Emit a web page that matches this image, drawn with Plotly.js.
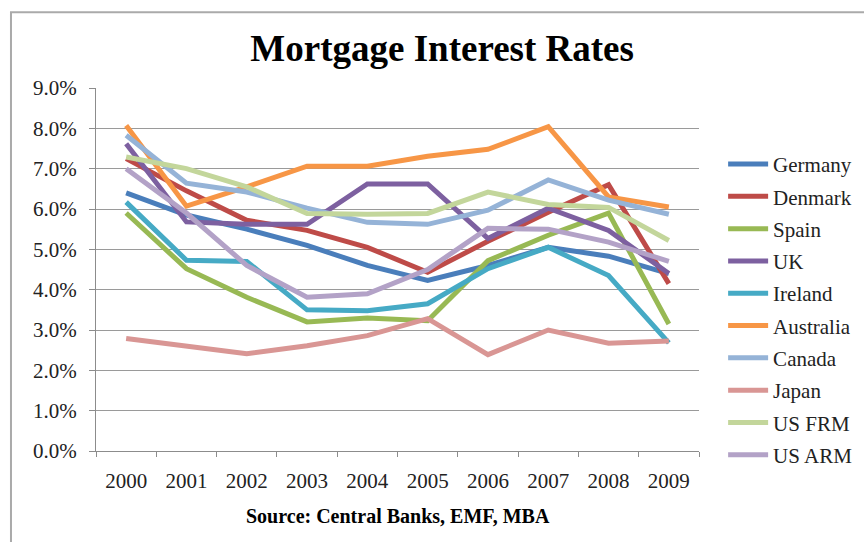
<!DOCTYPE html>
<html>
<head>
<meta charset="utf-8">
<script src="https://cdn.plot.ly/plotly-3.0.1.min.js"></script>
<style>html,body{margin:0;padding:0;background:#fff;}#chart{width:864px;height:542px;}</style>
</head>
<body>
<div id="chart"></div>
<script>
const years = ['2000','2001','2002','2003','2004','2005','2006','2007','2008','2009'];
const germany   = [6.4, 5.85, 5.5, 5.1, 4.6, 4.23, 4.6, 5.05, 4.83, 4.4];
const denmark   = [7.25, 6.45, 5.72, 5.47, 5.05, 4.43, 5.2, 5.92, 6.6, 4.15];
const spain     = [5.9, 4.52, 3.81, 3.2, 3.3, 3.23, 4.72, 5.35, 5.9, 3.15];
const uk        = [7.62, 5.68, 5.62, 5.62, 6.62, 6.62, 5.27, 6.02, 5.47, 4.4];
const ireland   = [6.17, 4.73, 4.7, 3.5, 3.48, 3.65, 4.52, 5.05, 4.35, 2.68];
const australia = [8.07, 6.07, 6.55, 7.06, 7.06, 7.31, 7.48, 8.04, 6.3, 6.05];
const canada    = [7.83, 6.64, 6.42, 6.02, 5.67, 5.62, 5.97, 6.72, 6.22, 5.87];
const japan     = [2.79, 2.6, 2.41, 2.61, 2.86, 3.28, 2.39, 3.0, 2.67, 2.73];
const usFrm     = [7.29, 7.0, 6.55, 5.89, 5.87, 5.89, 6.42, 6.11, 6.04, 5.22];
const usArm     = [7.0, 5.9, 4.6, 3.81, 3.9, 4.5, 5.52, 5.5, 5.18, 4.7];

const seriesNames = ['Germany','Denmark','Spain','UK','Ireland','Australia','Canada','Japan','US FRM','US ARM'];
const seriesData = [germany, denmark, spain, uk, ireland, australia, canada, japan, usFrm, usArm];
const colors = ['#4A7EBB','#BE4B48','#98B954','#7D60A0','#46AAC5','#F79646','#95B3D7','#D99694','#C3D69B','#B3A2C7'];

const font = "Liberation Serif, Times New Roman, serif";

const traces = seriesNames.map((n, i) => ({
  type: 'scatter', mode: 'lines', name: n, x: years, y: seriesData[i],
  line: {color: colors[i], width: 5}, legendgroup: 'g' + i
}));

const layout = {
  width: 864, height: 542,
  margin: {l: 96, r: 165, t: 88, b: 91, autoexpand: false},
  paper_bgcolor: '#fff', plot_bgcolor: '#fff',
  font: {family: font, size: 20, color: '#222'},
  title: {text: '<b>Mortgage Interest Rates</b>', font: {family: font, size: 37, color: '#000'},
    xref: 'paper', x: 0.574, xanchor: 'center', yref: 'container', y: 0.912, yanchor: 'middle'},
  xaxis: {type: 'category', range: [-0.5, 9.5], showline: true, linecolor: '#8c8c8c', linewidth: 1,
    ticks: 'outside', tickson: 'boundaries', ticklen: 5, tickcolor: '#8c8c8c',
    showgrid: false, ticklabelstandoff: 11, tickfont: {family: font, size: 21, color: '#222'}},
  yaxis: {range: [0, 9], dtick: 1, tickformat: '.1f', ticksuffix: '%',
    showline: true, linecolor: '#8c8c8c', linewidth: 1, ticks: 'outside', ticklen: 6, tickcolor: '#8c8c8c',
    showgrid: true, gridcolor: '#9a9a9a', gridwidth: 1, zeroline: false, ticklabelstandoff: 8,
    tickfont: {family: font, size: 21, color: '#222'}},
  legend: {x: 1.04, xanchor: 'left', y: 0.846, yanchor: 'top', font: {family: font, size: 21, color: '#222'},
    tracegroupgap: 2, itemwidth: 40, bgcolor: 'rgba(0,0,0,0)'},
  showlegend: true,
  annotations: [{text: '<b>Source: Central Banks, EMF, MBA</b>', xref: 'paper', yref: 'paper',
    x: 0.5, y: -0.18, xanchor: 'center', yanchor: 'middle', showarrow: false,
    font: {family: font, size: 20, color: '#000'}}],
  shapes: [{type: 'rect', xref: 'paper', yref: 'paper', x0: -0.141, x1: 1.35, y0: -0.4, y1: 1.209,
    line: {color: '#aaaaaa', width: 2}, layer: 'below'}]
};

Plotly.newPlot('chart', traces, layout, {displayModeBar: false, staticPlot: true});
</script>
</body>
</html>
